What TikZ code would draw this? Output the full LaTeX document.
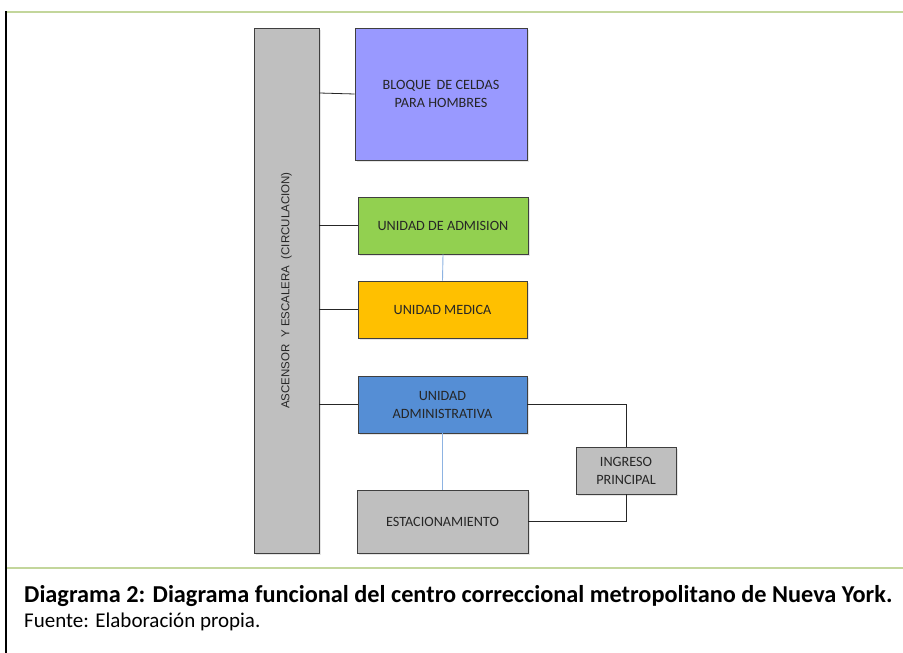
\documentclass[tikz,border=0pt]{standalone}
\usepackage{fontspec}
\setmainfont{Carlito}
\newfontfamily\arialfont{Liberation Sans}
\usetikzlibrary{positioning,calc,shadows}

\definecolor{framegreen}{HTML}{C3D69B}
\definecolor{boxgray}{HTML}{BFBFBF}
\definecolor{boxviolet}{HTML}{9999FF}
\definecolor{boxgreen}{HTML}{92D050}
\definecolor{boxorange}{HTML}{FFC000}
\definecolor{boxblue}{HTML}{558ED5}
\definecolor{linkblue}{HTML}{8DB3E2}
\definecolor{edgegray}{HTML}{3F3F3F}

\begin{document}
\begin{tikzpicture}[x=1pt, y=-1pt,
    % Node styles
    unit/.style={draw=edgegray, line width=0.9pt, inner sep=0pt, align=center,
        font=\fontsize{14.2}{18}\selectfont, text=black!85,
        drop shadow={opacity=0.2, shadow xshift=1.5pt, shadow yshift=-2pt}},
    column/.style={unit, fill=boxgray, minimum width=65pt, minimum height=525pt},
    link/.style={line width=0.8pt, color=black!85},
    bluelink/.style={line width=0.9pt, color=linkblue},
    caption/.style={anchor=base west, inner sep=0pt}
]

% Page and frame
\useasboundingbox (0,0) rectangle (903,653);
\fill[white] (0,0) rectangle (903,653);
\draw[framegreen, line width=1.5pt] (6,12) -- (903,12);
\draw[framegreen, line width=1.5pt] (6,568) -- (903,568);
\draw[black, line width=1.8pt] (6,11.3) -- (6,653);

% Circulation column (left)
\node[column] (col) at (286.5,290.5) {};
\node[rotate=90, font=\arialfont\fontsize{11.5}{13}\selectfont, text=black!85] (collabel) at (col.center)
    {ASCENSOR \ Y ESCALERA \ (CIRCULACION)};

% Units (center)
\node[unit, fill=boxviolet, minimum width=172pt, minimum height=132pt] (celdas) at (441,94)
    {BLOQUE \,DE CELDAS\\PARA HOMBRES};
\node[unit, fill=boxgreen, minimum width=170pt, minimum height=57pt] (admision) at (443,225.5) {UNIDAD DE ADMISION};
\node[unit, fill=boxorange, minimum width=169pt, minimum height=57pt] (medica) at (442.5,309.5) {UNIDAD MEDICA};
\node[unit, fill=boxblue, minimum width=169pt, minimum height=57pt] (admin) at (442.5,404.5) {UNIDAD\\ADMINISTRATIVA};
\node[unit, fill=boxgray, minimum width=171pt, minimum height=63pt] (estac) at (442.5,521.5) {ESTACIONAMIENTO};

% Main entrance (right)
\node[unit, fill=boxgray, minimum width=100pt, minimum height=47pt] (ingreso) at (626,470.5) {INGRESO\\PRINCIPAL};

% Links from the column
\draw[link] (col.east |- 0,93) -- (celdas.west);
\draw[link] (col.east |- admision) -- (admision.west);
\draw[link] (col.east |- medica) -- (medica.west);
\draw[link] (col.east |- admin) -- (admin.west);

% Links between units
\draw[bluelink] (admision.south) -- (medica.north);
\draw[bluelink] (admin.south) -- (estac.north);
\draw[link] (admin.east) -| (ingreso.north);
\draw[link] (ingreso.south) |- (estac.east);

% Caption
\node[caption, font=\bfseries\fontsize{24.3}{26}\selectfont] (title) at (24,602)
    {Diagrama 2: Diagrama funcional del centro correccional metropolitano de Nueva York.};
\node[caption, font=\fontsize{21}{24}\selectfont] (source) at (24,627) {Fuente: Elaboración propia.};

\end{tikzpicture}
\end{document}
